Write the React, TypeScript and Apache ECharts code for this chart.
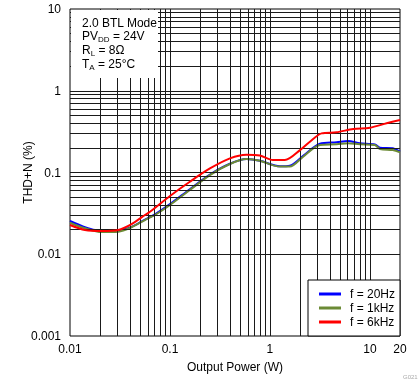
import React, { useEffect, useRef } from 'react';
import * as echarts from 'echarts';

// ---- data ----
const xTickValues = [0.01, 0.1, 1, 10, 20];
const yTickValues = [0.001, 0.01, 0.1, 1, 10];
const seriesNames = ['f = 20Hz', 'f = 1kHz', 'f = 6kHz'];
const seriesColors = ['#0000ff', '#6b8a35', '#ff0000'];

const power20Hz = [0.01, 0.0141, 0.0178, 0.0282, 0.0413, 0.0562, 0.0708, 0.1, 0.158, 0.251, 0.398, 0.582, 0.794, 1.26, 1.58, 2.15, 3.16, 4.64, 6.03, 7.94, 11.2, 12.6, 16.9, 20];
const thd20Hz = [0.0255, 0.0214, 0.0198, 0.0194, 0.0216, 0.0266, 0.0308, 0.041, 0.0625, 0.0945, 0.128, 0.146, 0.139, 0.119, 0.121, 0.16, 0.225, 0.234, 0.243, 0.228, 0.22, 0.201, 0.198, 0.18];

const power1kHz = [0.01, 0.0141, 0.0207, 0.0304, 0.0413, 0.0562, 0.0708, 0.1, 0.158, 0.251, 0.398, 0.582, 0.794, 1.26, 1.58, 2.15, 3.16, 4.64, 6.03, 7.94, 11.2, 12.6, 16.9, 20];
const thd1kHz = [0.0243, 0.0208, 0.0187, 0.0189, 0.0214, 0.0262, 0.0302, 0.04, 0.0611, 0.0931, 0.127, 0.146, 0.139, 0.118, 0.118, 0.156, 0.217, 0.221, 0.228, 0.221, 0.217, 0.194, 0.188, 0.177];

const power6kHz = [0.01, 0.0141, 0.0207, 0.0304, 0.0413, 0.0562, 0.0631, 0.1, 0.158, 0.251, 0.398, 0.582, 0.794, 1.07, 1.41, 2.0, 2.51, 3.28, 4.64, 6.81, 10, 14.7, 20];
const thd6kHz = [0.0228, 0.0198, 0.0192, 0.0198, 0.0234, 0.0302, 0.0331, 0.0516, 0.0771, 0.112, 0.149, 0.165, 0.161, 0.142, 0.142, 0.188, 0.238, 0.301, 0.31, 0.341, 0.353, 0.4, 0.439];

const decadeMultipliers = [1, 2, 3, 4, 5, 6, 7, 8, 9];
const xDecades = [0.01, 0.1, 1, 10];
const yDecades = [0.001, 0.01, 0.1, 1];

const FONT = '"Liberation Sans", Arial, sans-serif';

function zip(xs: number[], ys: number[]) {
  return xs.map((x, i) => [x, ys[i]]);
}

export default function App() {
  const ref = useRef<HTMLDivElement>(null);
  useEffect(() => {
    if (!ref.current) return;
    const chart = echarts.init(ref.current, undefined, { renderer: 'svg' });

    const xGrid: number[] = [];
    xDecades.forEach((d) => decadeMultipliers.forEach((m) => {
      const v = +(d * m).toPrecision(3);
      if (v > 0.01 && v < 20) xGrid.push(v);
    }));
    const yGrid: number[] = [];
    yDecades.forEach((d) => decadeMultipliers.forEach((m) => {
      const v = +(d * m).toPrecision(3);
      if (v > 0.001 && v < 10) yGrid.push(v);
    }));

    const dataSets = [zip(power20Hz, thd20Hz), zip(power1kHz, thd1kHz), zip(power6kHz, thd6kHz)];

    const labelFmt = (v: number) => String(+v.toPrecision(3));

    chart.setOption({
      animation: false,
      grid: {
        left: 70, right: 19, top: 9, bottom: 46,
        show: true, borderColor: '#000', borderWidth: 1, backgroundColor: 'transparent',
      },
      xAxis: {
        type: 'log', logBase: 10, min: 0.01, max: 20,
        name: 'Output Power (W)', nameLocation: 'middle', nameGap: 25, nameMoveOverlap: false,
        nameTextStyle: { fontFamily: FONT, fontSize: 12, color: '#000' },
        axisLine: { show: false }, axisTick: { show: false },
        splitLine: { show: false },
        axisLabel: {
          customValues: xTickValues, formatter: labelFmt,
          fontFamily: FONT, fontSize: 12, color: '#000', margin: 7,
        },
      },
      yAxis: {
        type: 'log', logBase: 10, min: 0.001, max: 10,
        name: 'THD+N (%)', nameLocation: 'middle', nameGap: 36, nameMoveOverlap: false,
        nameTextStyle: { fontFamily: FONT, fontSize: 12, color: '#000' },
        axisLine: { show: false }, axisTick: { show: false },
        splitLine: { show: false },
        axisLabel: {
          customValues: yTickValues, formatter: labelFmt,
          fontFamily: FONT, fontSize: 12, color: '#000', margin: 9,
        },
      },
      legend: {
        data: seriesNames, orient: 'vertical', left: 319, top: 287, z: 100,
        padding: 0, itemGap: 0, itemWidth: 22, itemHeight: 3, icon: 'rect',
        textStyle: { fontFamily: FONT, fontSize: 12, color: '#000', lineHeight: 14, padding: [0, 0, 0, 4] },
      },
      series: [
        {
          type: 'line', name: '__grid', data: [[0.01, 0.001]], showSymbol: false,
          lineStyle: { width: 0 }, z: 1, silent: true,
          markLine: {
            silent: true, symbol: 'none', label: { show: false },
            lineStyle: { color: '#1a1a1a', width: 1, type: 'solid' },
            emphasis: { disabled: true },
            data: [
              ...xGrid.map((v) => ({ xAxis: v })),
              ...yGrid.map((v) => ({ yAxis: v })),
            ],
          },
        },
        ...seriesNames.map((n, i) => ({
          type: 'line', name: n, data: dataSets[i], showSymbol: false, smooth: 0.3,
          lineStyle: { color: seriesColors[i], width: 2 }, itemStyle: { color: seriesColors[i] },
          z: 3 + i,
        })),
      ],
      graphic: [
        { type: 'rect', z: 50, shape: { x: 71, y: 10, width: 87, height: 68 }, style: { fill: '#fff' } },
        { type: 'rect', z: 50, shape: { x: 308, y: 280, width: 92, height: 56 }, style: { fill: '#fff', stroke: '#000', lineWidth: 1 } },
        { type: 'text', z: 60, x: 82, y: 23, style: { text: '2.0 BTL Mode', fontFamily: FONT, fontSize: 12, fill: '#000', verticalAlign: 'middle' } },
        { type: 'text', z: 60, x: 82, y: 36, style: {
          text: '{a|PV}{s|DD}{a| = 24V}', verticalAlign: 'middle',
          rich: { a: { fontFamily: FONT, fontSize: 12, fill: '#000' }, s: { fontFamily: FONT, fontSize: 8, fill: '#000', padding: [6, 0, 0, 0] } },
        } },
        { type: 'text', z: 60, x: 82, y: 50, style: {
          text: '{a|R}{s|L}{a| = 8Ω}', verticalAlign: 'middle',
          rich: { a: { fontFamily: FONT, fontSize: 12, fill: '#000' }, s: { fontFamily: FONT, fontSize: 8, fill: '#000', padding: [6, 0, 0, 0] } },
        } },
        { type: 'text', z: 60, x: 82, y: 64, style: {
          text: '{a|T}{s|A}{a| = 25°C}', verticalAlign: 'middle',
          rich: { a: { fontFamily: FONT, fontSize: 12, fill: '#000' }, s: { fontFamily: FONT, fontSize: 8, fill: '#000', padding: [6, 0, 0, 0] } },
        } },
        { type: 'text', z: 60, x: 403, y: 377, style: { text: 'G021', fontFamily: FONT, fontSize: 6, fill: '#aaa', verticalAlign: 'middle' } },
      ],
    });
    return () => chart.dispose();
  }, []);
  return <div ref={ref} style={{ position: 'fixed', left: 0, top: 0, width: 419, height: 382 }} />;
}
